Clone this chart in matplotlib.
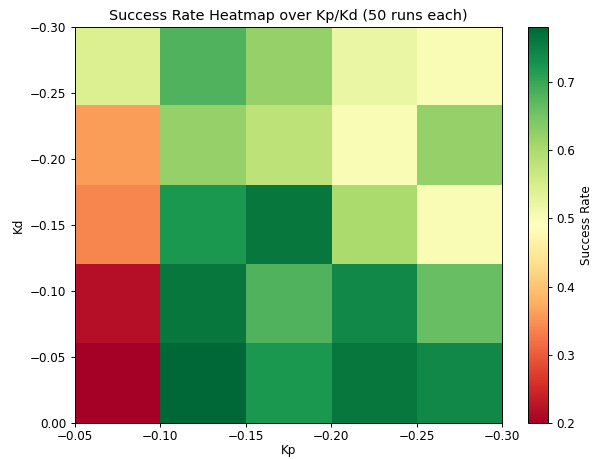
import numpy as np
import matplotlib
matplotlib.use('Agg')
import matplotlib.pyplot as plt

# Kp along x, Kd along y; rows listed top (Kd=-0.30) to bottom (Kd=0.00)
kp_ticks = [-0.05, -0.10, -0.15, -0.20, -0.25, -0.30]
kd_ticks = [0.00, -0.05, -0.10, -0.15, -0.20, -0.25, -0.30]

success_rate = np.array([
    [0.54, 0.68, 0.62, 0.52, 0.50],
    [0.36, 0.62, 0.58, 0.50, 0.62],
    [0.34, 0.72, 0.76, 0.60, 0.50],
    [0.22, 0.76, 0.68, 0.74, 0.66],
    [0.20, 0.78, 0.72, 0.76, 0.74],
])

fig = plt.figure(figsize=(594 / 86, 459 / 86), dpi=86)
ax = fig.add_axes([0.126, 0.078, 0.719, 0.863])
cax = fig.add_axes([0.889, 0.078, 0.034, 0.863])

im = ax.imshow(success_rate, cmap='RdYlGn', aspect='auto',
               extent=[-0.05, -0.30, 0.00, -0.30], origin='upper')
ax.set_ylim(0.00, -0.30)
ax.set_xlim(-0.05, -0.30)
ax.set_xticks(kp_ticks)
ax.set_yticks(kd_ticks)
ax.tick_params(axis='x', pad=2)
ax.set_xlabel('Kp', labelpad=1)
ax.set_ylabel('Kd')
ax.set_title('Success Rate Heatmap over Kp/Kd (50 runs each)')

cb = fig.colorbar(im, cax=cax)
cb.set_label('Success Rate')

fig.savefig('out.png')
